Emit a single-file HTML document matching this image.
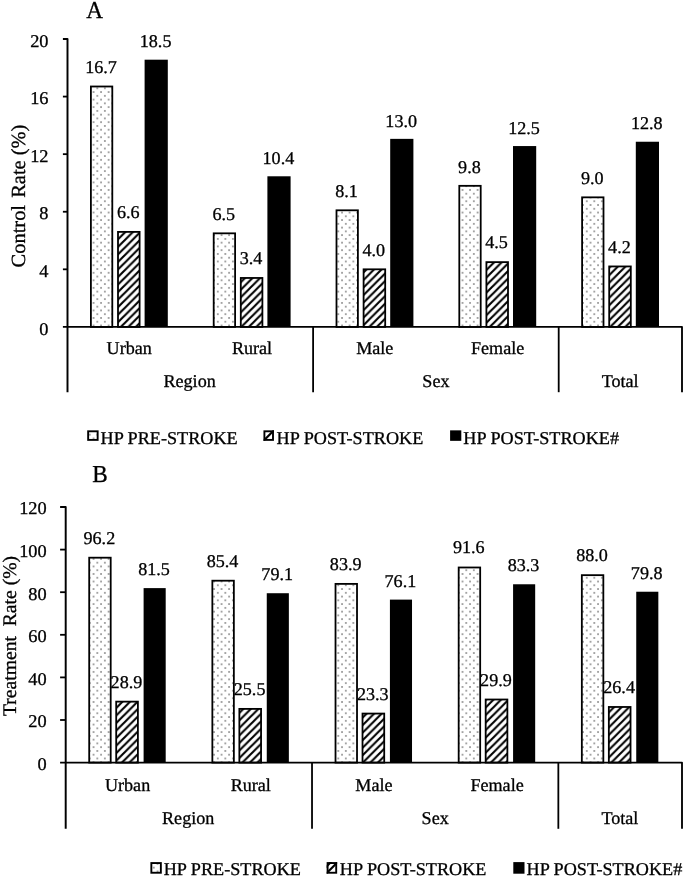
<!DOCTYPE html>
<html><head><meta charset="utf-8"><title>Figure</title>
<style>
html,body{margin:0;padding:0;background:#fff;}
svg{display:block}
text{font-family:"Liberation Serif","Times New Roman",serif;fill:#000;stroke:#000;stroke-width:0.3px;text-rendering:geometricPrecision;}
.t18{font-size:18px}
.t23{font-size:23px}
</style></head><body>
<svg width="685" height="878" viewBox="0 0 685 878">
<defs>
<pattern id="dots" x="1.318" y="-0.183" width="7.53" height="7.53" patternUnits="userSpaceOnUse">
<rect width="7.53" height="7.53" fill="#fff"/>
<circle cx="1.883" cy="1.883" r="0.64" fill="#000"/>
<circle cx="5.647" cy="5.647" r="0.64" fill="#000"/>
</pattern>
<pattern id="hatch" x="3.460" y="0" width="7.53" height="7.53" patternUnits="userSpaceOnUse">
<rect width="7.53" height="7.53" fill="#fff"/>
<path d="M-3.765,3.765 L3.765,-3.765 M-3.765,11.295 L11.295,-3.765 M3.765,11.295 L11.295,3.765" stroke="#000" stroke-width="2.1" fill="none"/>
</pattern>
</defs>
<rect width="685" height="878" fill="#fff"/>
<rect x="90.90" y="86.50" width="21.40" height="240.40" fill="url(#dots)" stroke="#000" stroke-width="1.8"/>
<text transform="translate(101.00,73.35) scale(1.006,1.0)" text-anchor="middle" class="t18">16.7</text>
<rect x="118.00" y="231.89" width="21.60" height="95.01" fill="url(#hatch)" stroke="#000" stroke-width="1.8"/>
<text transform="translate(128.20,218.19) scale(1.006,1.0)" text-anchor="middle" class="t18">6.6</text>
<rect x="144.60" y="59.69" width="23.2" height="267.21" fill="#000"/>
<text transform="translate(155.60,47.44) scale(1.006,1.0)" text-anchor="middle" class="t18">18.5</text>
<rect x="213.70" y="233.33" width="21.40" height="93.57" fill="url(#dots)" stroke="#000" stroke-width="1.8"/>
<text transform="translate(223.80,220.18) scale(1.006,1.0)" text-anchor="middle" class="t18">6.5</text>
<rect x="240.80" y="277.96" width="21.60" height="48.94" fill="url(#hatch)" stroke="#000" stroke-width="1.8"/>
<text transform="translate(251.00,264.26) scale(1.006,1.0)" text-anchor="middle" class="t18">3.4</text>
<rect x="267.40" y="176.29" width="23.2" height="150.61" fill="#000"/>
<text transform="translate(278.40,164.04) scale(1.006,1.0)" text-anchor="middle" class="t18">10.4</text>
<rect x="336.50" y="210.30" width="21.40" height="116.60" fill="url(#dots)" stroke="#000" stroke-width="1.8"/>
<text transform="translate(346.60,197.15) scale(1.006,1.0)" text-anchor="middle" class="t18">8.1</text>
<rect x="363.60" y="269.32" width="21.60" height="57.58" fill="url(#hatch)" stroke="#000" stroke-width="1.8"/>
<text transform="translate(373.80,255.62) scale(1.006,1.0)" text-anchor="middle" class="t18">4.0</text>
<rect x="390.20" y="138.86" width="23.2" height="188.03" fill="#000"/>
<text transform="translate(401.20,126.61) scale(1.006,1.0)" text-anchor="middle" class="t18">13.0</text>
<rect x="459.30" y="185.83" width="21.40" height="141.07" fill="url(#dots)" stroke="#000" stroke-width="1.8"/>
<text transform="translate(469.40,172.68) scale(1.006,1.0)" text-anchor="middle" class="t18">9.8</text>
<rect x="486.40" y="262.12" width="21.60" height="64.78" fill="url(#hatch)" stroke="#000" stroke-width="1.8"/>
<text transform="translate(496.60,248.42) scale(1.006,1.0)" text-anchor="middle" class="t18">4.5</text>
<rect x="513.00" y="146.06" width="23.2" height="180.84" fill="#000"/>
<text transform="translate(524.00,133.81) scale(1.006,1.0)" text-anchor="middle" class="t18">12.5</text>
<rect x="582.10" y="197.34" width="21.40" height="129.56" fill="url(#dots)" stroke="#000" stroke-width="1.8"/>
<text transform="translate(592.20,184.19) scale(1.006,1.0)" text-anchor="middle" class="t18">9.0</text>
<rect x="609.20" y="266.44" width="21.60" height="60.46" fill="url(#hatch)" stroke="#000" stroke-width="1.8"/>
<text transform="translate(619.40,252.74) scale(1.006,1.0)" text-anchor="middle" class="t18">4.2</text>
<rect x="635.80" y="141.74" width="23.2" height="185.16" fill="#000"/>
<text transform="translate(646.80,129.49) scale(1.006,1.0)" text-anchor="middle" class="t18">12.8</text>
<path d="M62.90,39.00 L67.5,39.00 L67.5,392.2" fill="none" stroke="#000" stroke-width="1.95" stroke-linejoin="round"/>
<path d="M62.90,326.9 L682.0,326.9 L682.0,392.2" fill="none" stroke="#000" stroke-width="1.85" stroke-linejoin="round"/>
<text transform="translate(48.50,334.50) scale(1.02,1.0)" text-anchor="end" class="t18">0</text>
<line x1="62.9" y1="269.32" x2="67.5" y2="269.32" stroke="#000" stroke-width="1.8"/>
<text transform="translate(48.50,276.92) scale(1.02,1.0)" text-anchor="end" class="t18">4</text>
<line x1="62.9" y1="211.74" x2="67.5" y2="211.74" stroke="#000" stroke-width="1.8"/>
<text transform="translate(48.50,219.34) scale(1.02,1.0)" text-anchor="end" class="t18">8</text>
<line x1="62.9" y1="154.16" x2="67.5" y2="154.16" stroke="#000" stroke-width="1.8"/>
<text transform="translate(48.50,161.76) scale(1.02,1.0)" text-anchor="end" class="t18">12</text>
<line x1="62.9" y1="96.58" x2="67.5" y2="96.58" stroke="#000" stroke-width="1.8"/>
<text transform="translate(48.50,104.18) scale(1.02,1.0)" text-anchor="end" class="t18">16</text>
<text transform="translate(48.50,46.60) scale(1.02,1.0)" text-anchor="end" class="t18">20</text>
<line x1="313.10" y1="326.9" x2="313.10" y2="392.2" stroke="#000" stroke-width="1.8"/>
<line x1="558.70" y1="326.9" x2="558.70" y2="392.2" stroke="#000" stroke-width="1.8"/>
<text transform="translate(129.20,354.30) scale(1.005,1.0)" text-anchor="middle" class="t18">Urban</text>
<text transform="translate(252.00,354.30) scale(1.005,1.0)" text-anchor="middle" class="t18">Rural</text>
<text transform="translate(374.80,354.30) scale(1.005,1.0)" text-anchor="middle" class="t18">Male</text>
<text transform="translate(497.60,354.30) scale(1.005,1.0)" text-anchor="middle" class="t18">Female</text>
<text transform="translate(189.60,387.00) scale(1.005,1.0)" text-anchor="middle" class="t18">Region</text>
<text transform="translate(435.90,387.00) scale(1.005,1.0)" text-anchor="middle" class="t18">Sex</text>
<text transform="translate(620.10,387.00) scale(1.005,1.0)" text-anchor="middle" class="t18">Total</text>
<text transform="translate(86.30,17.80) scale(1.01,1.06)" class="t23">A</text>
<text transform="translate(25.4,196.0) rotate(-90) scale(1.02,1.0)" text-anchor="middle" style="font-size:20.05px;white-space:pre" xml:space="preserve">Control <tspan dx="2">Rate (%)</tspan></text>
<rect x="88.15" y="431.30" width="9.50" height="8.60" fill="url(#dots)" stroke="#000" stroke-width="1.9"/>
<text transform="translate(100.50,443.70) scale(1.01,1.0)" class="t18">HP PRE-STROKE</text>
<rect x="264.40" y="431.30" width="8.60" height="8.60" fill="#fff" stroke="#000" stroke-width="1.9"/>
<svg x="263.45" y="430.35" width="10.5" height="10.5" viewBox="0 0 10.5 10.5"><line x1="-2.75" y1="13.25" x2="13.25" y2="-2.75" stroke="#000" stroke-width="2.2"/></svg>
<text transform="translate(276.60,443.70) scale(1.01,1.0)" class="t18">HP POST-STROKE</text>
<rect x="450.10" y="430.35" width="11.2" height="10.5" fill="#000"/>
<text transform="translate(463.30,443.70) scale(1.01,1.0)" class="t18">HP POST-STROKE#</text>
<rect x="89.20" y="557.69" width="21.50" height="204.91" fill="url(#dots)" stroke="#000" stroke-width="1.8"/>
<text transform="translate(99.35,543.69) scale(1.006,1.0)" text-anchor="middle" class="t18">96.2</text>
<rect x="116.20" y="701.64" width="21.70" height="60.96" fill="url(#hatch)" stroke="#000" stroke-width="1.8"/>
<text transform="translate(126.45,687.74) scale(1.006,1.0)" text-anchor="middle" class="t18">28.9</text>
<rect x="143.60" y="588.11" width="22.1" height="174.50" fill="#000"/>
<text transform="translate(154.05,575.11) scale(1.006,1.0)" text-anchor="middle" class="t18">81.5</text>
<rect x="212.36" y="580.70" width="21.50" height="181.90" fill="url(#dots)" stroke="#000" stroke-width="1.8"/>
<text transform="translate(222.51,566.70) scale(1.006,1.0)" text-anchor="middle" class="t18">85.4</text>
<rect x="239.36" y="708.89" width="21.70" height="53.71" fill="url(#hatch)" stroke="#000" stroke-width="1.8"/>
<text transform="translate(249.61,694.99) scale(1.006,1.0)" text-anchor="middle" class="t18">25.5</text>
<rect x="266.76" y="593.22" width="22.1" height="169.38" fill="#000"/>
<text transform="translate(277.21,580.22) scale(1.006,1.0)" text-anchor="middle" class="t18">79.1</text>
<rect x="335.52" y="583.89" width="21.50" height="178.71" fill="url(#dots)" stroke="#000" stroke-width="1.8"/>
<text transform="translate(345.67,569.89) scale(1.006,1.0)" text-anchor="middle" class="t18">83.9</text>
<rect x="362.52" y="713.57" width="21.70" height="49.03" fill="url(#hatch)" stroke="#000" stroke-width="1.8"/>
<text transform="translate(372.77,699.67) scale(1.006,1.0)" text-anchor="middle" class="t18">23.3</text>
<rect x="389.92" y="599.61" width="22.1" height="162.99" fill="#000"/>
<text transform="translate(400.37,586.61) scale(1.006,1.0)" text-anchor="middle" class="t18">76.1</text>
<rect x="458.68" y="567.49" width="21.50" height="195.11" fill="url(#dots)" stroke="#000" stroke-width="1.8"/>
<text transform="translate(468.83,553.49) scale(1.006,1.0)" text-anchor="middle" class="t18">91.6</text>
<rect x="485.68" y="699.51" width="21.70" height="63.09" fill="url(#hatch)" stroke="#000" stroke-width="1.8"/>
<text transform="translate(495.93,685.61) scale(1.006,1.0)" text-anchor="middle" class="t18">29.9</text>
<rect x="513.08" y="584.27" width="22.1" height="178.33" fill="#000"/>
<text transform="translate(523.53,571.27) scale(1.006,1.0)" text-anchor="middle" class="t18">83.3</text>
<rect x="581.84" y="575.16" width="21.50" height="187.44" fill="url(#dots)" stroke="#000" stroke-width="1.8"/>
<text transform="translate(591.99,561.16) scale(1.006,1.0)" text-anchor="middle" class="t18">88.0</text>
<rect x="608.84" y="706.97" width="21.70" height="55.63" fill="url(#hatch)" stroke="#000" stroke-width="1.8"/>
<text transform="translate(619.09,693.07) scale(1.006,1.0)" text-anchor="middle" class="t18">26.4</text>
<rect x="636.24" y="591.73" width="22.1" height="170.87" fill="#000"/>
<text transform="translate(646.69,578.73) scale(1.006,1.0)" text-anchor="middle" class="t18">79.8</text>
<path d="M60.10,507.00 L65.7,507.00 L65.7,828.8" fill="none" stroke="#000" stroke-width="1.95" stroke-linejoin="round"/>
<path d="M60.10,762.6 L682.0,762.6 L682.0,828.8" fill="none" stroke="#000" stroke-width="1.85" stroke-linejoin="round"/>
<text transform="translate(46.70,770.00) scale(1.02,1.0)" text-anchor="end" class="t18">0</text>
<line x1="60.1" y1="720.00" x2="65.7" y2="720.00" stroke="#000" stroke-width="1.8"/>
<text transform="translate(46.70,727.40) scale(1.02,1.0)" text-anchor="end" class="t18">20</text>
<line x1="60.1" y1="677.40" x2="65.7" y2="677.40" stroke="#000" stroke-width="1.8"/>
<text transform="translate(46.70,684.80) scale(1.02,1.0)" text-anchor="end" class="t18">40</text>
<line x1="60.1" y1="634.80" x2="65.7" y2="634.80" stroke="#000" stroke-width="1.8"/>
<text transform="translate(46.70,642.20) scale(1.02,1.0)" text-anchor="end" class="t18">60</text>
<line x1="60.1" y1="592.20" x2="65.7" y2="592.20" stroke="#000" stroke-width="1.8"/>
<text transform="translate(46.70,599.60) scale(1.02,1.0)" text-anchor="end" class="t18">80</text>
<line x1="60.1" y1="549.60" x2="65.7" y2="549.60" stroke="#000" stroke-width="1.8"/>
<text transform="translate(46.70,557.00) scale(1.02,1.0)" text-anchor="end" class="t18">100</text>
<text transform="translate(46.70,514.40) scale(1.02,1.0)" text-anchor="end" class="t18">120</text>
<line x1="312.02" y1="762.6" x2="312.02" y2="828.8" stroke="#000" stroke-width="1.8"/>
<line x1="558.34" y1="762.6" x2="558.34" y2="828.8" stroke="#000" stroke-width="1.8"/>
<text transform="translate(127.58,790.90) scale(1.005,1.0)" text-anchor="middle" class="t18">Urban</text>
<text transform="translate(250.74,790.90) scale(1.005,1.0)" text-anchor="middle" class="t18">Rural</text>
<text transform="translate(373.90,790.90) scale(1.005,1.0)" text-anchor="middle" class="t18">Male</text>
<text transform="translate(497.06,790.90) scale(1.005,1.0)" text-anchor="middle" class="t18">Female</text>
<text transform="translate(188.16,823.70) scale(1.005,1.0)" text-anchor="middle" class="t18">Region</text>
<text transform="translate(435.18,823.70) scale(1.005,1.0)" text-anchor="middle" class="t18">Sex</text>
<text transform="translate(619.92,823.70) scale(1.005,1.0)" text-anchor="middle" class="t18">Total</text>
<text transform="translate(92.30,482.10) scale(1.01,1.06)" class="t23">B</text>
<text transform="translate(16.2,636) rotate(-90) scale(1.02,1.0)" text-anchor="middle" style="font-size:19.25px;white-space:pre" xml:space="preserve">Treatment  Rate (%)</text>
<rect x="151.35" y="863.05" width="9.50" height="9.70" fill="url(#dots)" stroke="#000" stroke-width="1.9"/>
<text transform="translate(163.70,875.30) scale(1.01,1.0)" class="t18">HP PRE-STROKE</text>
<rect x="327.60" y="863.05" width="8.60" height="9.70" fill="#fff" stroke="#000" stroke-width="1.9"/>
<svg x="326.65" y="862.10" width="10.5" height="11.6" viewBox="0 0 10.5 11.6"><line x1="-2.75" y1="13.80" x2="13.25" y2="-2.20" stroke="#000" stroke-width="2.2"/><line x1="-3" y1="7.20" x2="7.20" y2="-3" stroke="#000" stroke-width="2.2"/></svg>
<text transform="translate(339.80,875.30) scale(1.01,1.0)" class="t18">HP POST-STROKE</text>
<rect x="513.30" y="862.1" width="11.2" height="11.6" fill="#000"/>
<text transform="translate(526.50,875.30) scale(1.01,1.0)" class="t18">HP POST-STROKE#</text>
</svg>
</body></html>
